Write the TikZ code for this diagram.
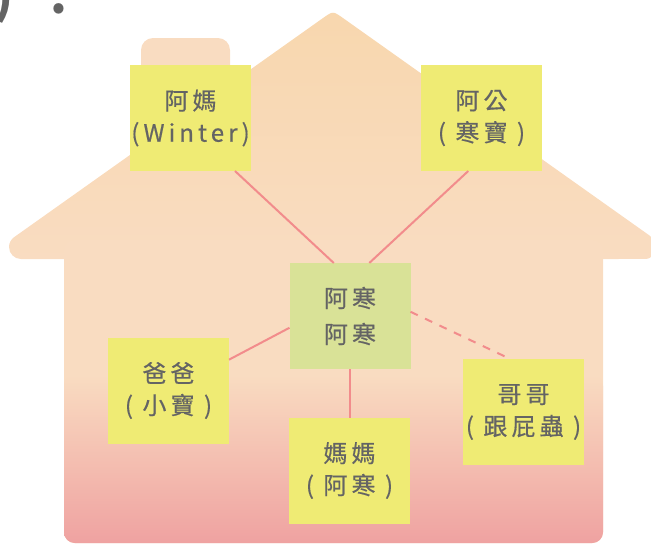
\documentclass[tikz,border=0pt]{standalone}
\usepackage{fontspec}
\setmainfont{Noto Sans CJK TC}
\newfontfamily\cjk[LetterSpace=17, FakeBold=0.5]{Noto Sans CJK TC}
\definecolor{roofpeach}{HTML}{F9DCC1}
\definecolor{rooftop}{HTML}{F8D7AE}
\definecolor{bodymid}{HTML}{F4C2BB}
\definecolor{bodypink}{HTML}{EFA2A1}
\definecolor{boxyellow}{HTML}{EFEB74}
\definecolor{boxgreen}{HTML}{D9E297}
\definecolor{tiered}{HTML}{F28C8C}
\definecolor{inkgrey}{HTML}{646464}

\begin{document}
\begin{tikzpicture}[x=0.75pt, y=-0.75pt,
    every node/.style={align=center, text=inkgrey, font=\cjk\fontsize{18}{24}\selectfont},
    member/.style={fill=boxyellow, minimum width=90.75pt, minimum height=79.5pt, inner sep=0pt, outer sep=0pt},
    me/.style={member, fill=boxgreen, font=\cjk\fontsize{18}{27}\selectfont},
    tie/.style={draw=tiered, line width=1.5pt}]
    \useasboundingbox (0,0) rectangle (651,544);

    % house
    \fill[roofpeach] (141,120) -- (141,50) arc[start angle=180, end angle=270, radius=12] -- (218,38) arc[start angle=270, end angle=360, radius=12] -- (230,120) -- cycle;
    \shade[top color=rooftop, bottom color=roofpeach] (21,259) arc[start angle=90, end angle=234.7, radius=12] -- (323.2,17.9) .. controls (333,11) .. (342.8,17.9) -- (651.9,237.2) arc[start angle=-54.7, end angle=90, radius=12] -- cycle;
    \fill[roofpeach, rounded corners=8] (64,240) rectangle (603,543);
    \shade[top color=roofpeach, middle color=bodymid, bottom color=bodypink, rounded corners=8] (64,375) rectangle (603,543);

    \node[anchor=base west, inner sep=0pt, font=\bfseries\fontsize{36}{36}\selectfont] (tail) at (-6,13) {)\hspace{28pt}.};

    \node[member] (ama) at (190.5,118) {阿媽\\(Winter)};
    \node[member] (agong) at (481.5,118) {阿公\\( 寒寶 )};
    \node[me] (ahan) at (350,316) {阿寒\\阿寒};
    \node[member] (baba) at (168.5,390.5) {爸爸\\( 小寶 )};
    \node[member] (mama) at (349.5,470.5) {媽媽\\( 阿寒 )};
    \node[member] (gege) at (523.5,412) {哥哥\\( 跟屁蟲 )};

    \draw[tie] (ama.-50) -- (ahan.107);
    \draw[tie] (agong.-104) -- (ahan.70);
    \draw[tie] (baba.27.5) -- (ahan.191);
    \draw[tie] (ahan.south) -- (ahan.south |- mama.north);
    \draw[tie, dash pattern=on 6pt off 6pt] (ahan.4) -- (gege.104);
\end{tikzpicture}
\end{document}
